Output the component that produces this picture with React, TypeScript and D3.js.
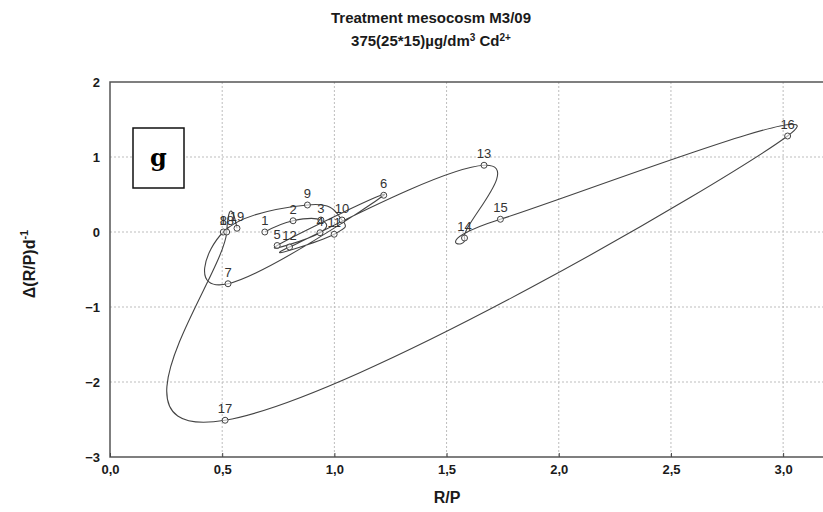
import React, { useEffect, useRef } from 'react'
import * as d3 from 'd3'

// observation number, R/P and daily change of R/P
const pointIds = [1, 2, 3, 4, 5, 6, 7, 8, 9, 10, 11, 12, 13, 14, 15, 16, 17, 18, 19]
const rp = [0.69, 0.816, 0.94, 0.936, 0.745, 1.22, 0.526, 0.505, 0.88, 1.034, 0.999, 0.8, 1.667, 1.58, 1.74, 3.02, 0.513, 0.52, 0.566]
const dRp = [0.0, 0.15, 0.16, -0.01, -0.18, 0.49, -0.69, 0.0, 0.36, 0.16, -0.03, -0.2, 0.89, -0.08, 0.17, 1.28, -2.51, 0.0, 0.05]

const xTicks = [0, 0.5, 1, 1.5, 2, 2.5, 3]
const yTicks = [-3, -2, -1, 0, 1, 2]

const W = 823
const H = 512

export default function App() {
  const ref = useRef<SVGSVGElement>(null)

  useEffect(() => {
    const svg = d3.select(ref.current)
    svg.selectAll('*').remove()

    const x = d3.scaleLinear().domain([0, 3.2]).range([110, 828])
    const y = d3.scaleLinear().domain([-3, 2]).range([457, 82])
    const font = 'Arial, "Liberation Sans", sans-serif'

    // grid
    const grid = svg.append('g').attr('stroke', '#bdbdbd').attr('stroke-dasharray', '2,2').attr('stroke-width', 1)
    xTicks.slice(1).forEach(t => {
      grid.append('line').attr('x1', x(t)).attr('x2', x(t)).attr('y1', y(2)).attr('y2', y(-3))
    })
    yTicks.slice(1, -1).forEach(t => {
      grid.append('line').attr('x1', x(0)).attr('x2', W).attr('y1', y(t)).attr('y2', y(t))
    })

    // frame (right side runs off the picture)
    svg.append('path')
      .attr('d', `M${W},${y(2)}H${x(0)}V${y(-3)}H${W}`)
      .attr('fill', 'none').attr('stroke', '#555').attr('stroke-width', 1.5)

    // axes
    const xAxis = d3.axisBottom(x).tickValues(xTicks).tickSize(-4).tickPadding(8)
      .tickFormat(d => d3.format('.1f')(d as number).replace('.', ','))
    svg.append('g').attr('transform', `translate(0,${y(-3)})`).call(xAxis)
      .call(g => g.select('.domain').remove())
      .call(g => g.selectAll('text').attr('font-family', font).attr('font-weight', 'bold').attr('font-size', 13).attr('fill', '#1a1a1a'))
      .call(g => g.selectAll('line').attr('stroke', '#444'))

    const yAxis = d3.axisLeft(y).tickValues(yTicks).tickSize(0).tickPadding(10).tickFormat(d3.format('d'))
    svg.append('g').attr('transform', `translate(${x(0)},0)`).call(yAxis)
      .call(g => g.select('.domain').remove())
      .call(g => g.selectAll('text').attr('font-family', font).attr('font-weight', 'bold').attr('font-size', 13).attr('fill', '#1a1a1a'))

    // trajectory
    const pts: [number, number][] = rp.map((v, i) => [x(v), y(dRp[i])])
    svg.append('path')
      .attr('d', d3.line().curve(d3.curveCardinal.tension(-0.4))(pts))
      .attr('fill', 'none').attr('stroke', '#444').attr('stroke-width', 1.1)

    const pg = svg.append('g')
    pts.forEach((p, i) => {
      pg.append('circle').attr('cx', p[0]).attr('cy', p[1]).attr('r', 3)
        .attr('fill', 'white').attr('fill-opacity', 0.6).attr('stroke', '#444').attr('stroke-width', 1)
      pg.append('text').attr('x', p[0]).attr('y', p[1] - 7).attr('text-anchor', 'middle')
        .attr('font-family', font).attr('font-size', 13).attr('fill', '#333')
        .text(pointIds[i])
    })

    // panel letter
    svg.append('rect').attr('x', 133).attr('y', 128).attr('width', 51).attr('height', 60)
      .attr('fill', 'white').attr('stroke', '#111').attr('stroke-width', 1.5)
    svg.append('text').attr('x', 158.5).attr('y', 166).attr('text-anchor', 'middle')
      .attr('font-family', '"DejaVu Serif", "Liberation Serif", serif').attr('font-weight', 'bold').attr('font-size', 24)
      .text('g')

    // titles
    const title = svg.append('text').attr('text-anchor', 'middle')
      .attr('font-family', font).attr('font-weight', 'bold').attr('font-size', 15).attr('fill', '#1a1a1a')
    title.append('tspan').attr('x', 431).attr('y', 23).text('Treatment mesocosm M3/09')
    const t2 = title.append('tspan').attr('x', 431).attr('y', 46)
    t2.append('tspan').text('375(25*15)µg/dm')
    t2.append('tspan').attr('font-size', 10).attr('dy', -5).text('3')
    t2.append('tspan').attr('dy', 5).text(' Cd')
    t2.append('tspan').attr('font-size', 10).attr('dy', -5).text('2+')

    svg.append('text').attr('x', 447).attr('y', 503).attr('text-anchor', 'middle')
      .attr('font-family', font).attr('font-weight', 'bold').attr('font-size', 16).attr('fill', '#1a1a1a')
      .text('R/P')

    const yl = svg.append('text').attr('transform', 'translate(35,264) rotate(-90)').attr('text-anchor', 'middle')
      .attr('font-family', font).attr('font-weight', 'bold').attr('font-size', 16).attr('fill', '#1a1a1a')
    yl.append('tspan').text('Δ(R/P)d')
    yl.append('tspan').attr('font-size', 11).attr('dy', -7).text('-1')
  }, [])

  return (
    <svg ref={ref} width={W} height={H} viewBox={`0 0 ${W} ${H}`}
      style={{ position: 'absolute', left: 0, top: 0, background: 'white', display: 'block' }} />
  )
}
